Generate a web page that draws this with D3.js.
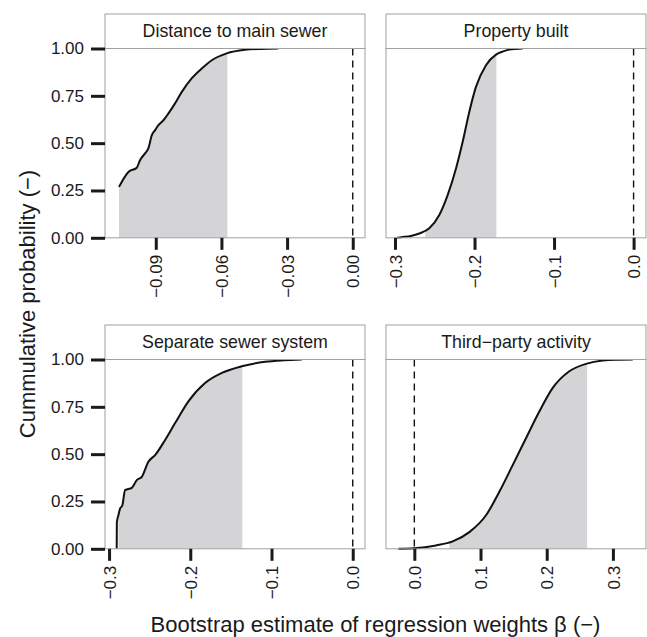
<!DOCTYPE html>
<html>
<head>
<meta charset="utf-8">
<script src="https://cdn.jsdelivr.net/npm/d3@7"></script>
<style>
  body { margin: 0; background: #fff; }
  svg text { font-family: "Liberation Sans", Arial, sans-serif; fill: #1a1a1a; }
</style>
</head>
<body>
<svg id="chart" width="647" height="637"></svg>
<script>
// panel titles
const titles = ["Distance to main sewer", "Property built", "Separate sewer system", "Third\u2212party activity"];

// bootstrap ECDF points
const distX = [-0.1068, -0.1025, -0.0987, -0.0972, -0.0949, -0.0934, -0.0918, -0.0903, -0.0888, -0.0865, -0.0842, -0.0812, -0.0781, -0.0736, -0.0690, -0.0644, -0.0576, -0.0492, -0.0420, -0.0340];
const distP = [0.269, 0.348, 0.370, 0.410, 0.446, 0.472, 0.542, 0.569, 0.595, 0.621, 0.657, 0.710, 0.771, 0.842, 0.894, 0.938, 0.974, 0.993, 0.998, 1.0];

const propX = [-0.2972, -0.2925, -0.2800, -0.2694, -0.2569, -0.2443, -0.2338, -0.2233, -0.2149, -0.2066, -0.1982, -0.1856, -0.1730, -0.1640, -0.1563, -0.1480, -0.1395];
const propP = [0, 0.003, 0.010, 0.023, 0.050, 0.120, 0.225, 0.366, 0.507, 0.665, 0.797, 0.912, 0.968, 0.985, 0.994, 0.998, 1.0];

const sepX = [-0.2906, -0.2904, -0.2885, -0.2865, -0.2836, -0.2803, -0.2720, -0.2659, -0.2597, -0.2516, -0.2433, -0.2310, -0.2187, -0.2023, -0.1818, -0.1612, -0.1366, -0.1079, -0.0850, -0.0627];
const sepP = [0, 0.141, 0.177, 0.212, 0.230, 0.310, 0.322, 0.363, 0.380, 0.460, 0.495, 0.575, 0.664, 0.779, 0.876, 0.929, 0.964, 0.988, 0.996, 1.0];

const thirdX = [-0.0240, 0, 0.0328, 0.0580, 0.0831, 0.1083, 0.1284, 0.1486, 0.1687, 0.1888, 0.2091, 0.2341, 0.2594, 0.2846, 0.3050, 0.3300];
const thirdP = [0, 0.003, 0.018, 0.039, 0.088, 0.177, 0.301, 0.442, 0.584, 0.725, 0.850, 0.938, 0.977, 0.995, 0.999, 1.0];

// shaded 95% interval (lower, upper)
const shadeLo = [-0.1068, -0.2620, -0.2885, 0.0530];
const shadeHi = [-0.0573, -0.1725, -0.1360, 0.2610];

// x ranges and ticks
const xDomains = [[-0.1132, 0.0056], [-0.3113, 0.0156], [-0.305, 0.0151], [-0.0428, 0.35]];
const xTicks = [[-0.09, -0.06, -0.03, 0], [-0.3, -0.2, -0.1, 0], [-0.3, -0.2, -0.1, 0], [0, 0.1, 0.2, 0.3]];
const xTickLabels = [["\u22120.09", "\u22120.06", "\u22120.03", "0.00"],
                     ["\u22120.3", "\u22120.2", "\u22120.1", "0.0"],
                     ["\u22120.3", "\u22120.2", "\u22120.1", "0.0"],
                     ["0.0", "0.1", "0.2", "0.3"]];
const yTicks = [0, 0.25, 0.5, 0.75, 1];
const yTickLabels = ["0.00", "0.25", "0.50", "0.75", "1.00"];

const xs = [distX, propX, sepX, thirdX];
const ps = [distP, propP, sepP, thirdP];

const svg = d3.select("#chart");
svg.append("rect").attr("width", 647).attr("height", 637).attr("fill", "#fff");

const colX = [105, 386];
const rowTop = [14, 325];
const pw = 260, stripH = 34.5, ph = 189.3;

titles.forEach((title, i) => {
    const col = i % 2, row = Math.floor(i / 2);
    const left = colX[col];
    const top = rowTop[row] + stripH;

    const x = d3.scaleLinear().domain(xDomains[i]).range([0, pw]);
    const y = d3.scaleLinear().domain([0, 1]).range([ph, 0]);

    const g = svg.append("g").attr("transform", `translate(${left},${top})`);

    const pts = xs[i].map((v, k) => ({ x: v, p: ps[i][k] }));
    const curve = d3.curveMonotoneX;

    g.append("defs").append("clipPath")
        .attr("id", "shade" + i)
        .append("rect")
        .attr("x", x(shadeLo[i]))
        .attr("y", 0)
        .attr("width", x(shadeHi[i]) - x(shadeLo[i]))
        .attr("height", ph);

    g.append("path")
        .datum(pts)
        .attr("fill", "#d4d4d6")
        .attr("clip-path", `url(#shade${i})`)
        .attr("d", d3.area().curve(curve).x(d => x(d.x)).y0(y(0)).y1(d => y(d.p)));

    // zero line
    g.append("line")
        .attr("x1", x(0)).attr("x2", x(0))
        .attr("y1", 0).attr("y2", ph)
        .attr("stroke", "#111")
        .attr("stroke-width", 1.4)
        .attr("stroke-dasharray", "7,5");

    g.append("path")
        .datum(pts)
        .attr("fill", "none")
        .attr("stroke", "#111")
        .attr("stroke-width", 2)
        .attr("d", d3.line().curve(curve).x(d => x(d.x)).y(d => y(d.p)));

    // panel border and strip
    g.append("rect")
        .attr("x", 0).attr("y", 0).attr("width", pw).attr("height", ph)
        .attr("fill", "none").attr("stroke", "#a0a0a0").attr("stroke-width", 1);

    g.append("rect")
        .attr("x", 0).attr("y", -stripH).attr("width", pw).attr("height", stripH)
        .attr("fill", "#fff").attr("stroke", "#a0a0a0").attr("stroke-width", 1);

    g.append("text")
        .attr("x", pw / 2).attr("y", -stripH / 2 + 6)
        .attr("text-anchor", "middle")
        .style("font-size", "17.8px")
        .text(title);

    const xAxis = g.append("g")
        .attr("transform", `translate(0,${ph})`)
        .call(d3.axisBottom(x).tickValues(xTicks[i]).tickSize(12)
            .tickFormat((d, k) => xTickLabels[i][k]));
    xAxis.select(".domain").remove();
    xAxis.selectAll(".tick line").attr("stroke", "#1a1a1a").attr("stroke-width", 3);
    xAxis.selectAll(".tick text")
        .attr("transform", "rotate(-90)")
        .attr("x", -17).attr("y", 0).attr("dy", "0.36em")
        .attr("text-anchor", "end")
        .style("font-size", "17px");

    if (col === 0) {
        const yAxis = g.append("g")
            .call(d3.axisLeft(y).tickValues(yTicks).tickSize(14).tickPadding(7)
                .tickFormat((d, k) => yTickLabels[k]));
        yAxis.select(".domain").remove();
        yAxis.selectAll(".tick line").attr("stroke", "#1a1a1a").attr("stroke-width", 3);
        yAxis.selectAll(".tick text").style("font-size", "17px");
    }
});

svg.append("text")
    .attr("transform", "translate(35,304) rotate(-90)")
    .attr("text-anchor", "middle")
    .style("font-size", "22px")
    .text("Cummulative probability (\u2212)");

svg.append("text")
    .attr("x", 375.5).attr("y", 632)
    .attr("text-anchor", "middle")
    .style("font-size", "22px")
    .text("Bootstrap estimate of regression weights \u03b2 (\u2212)");
</script>
</body>
</html>
